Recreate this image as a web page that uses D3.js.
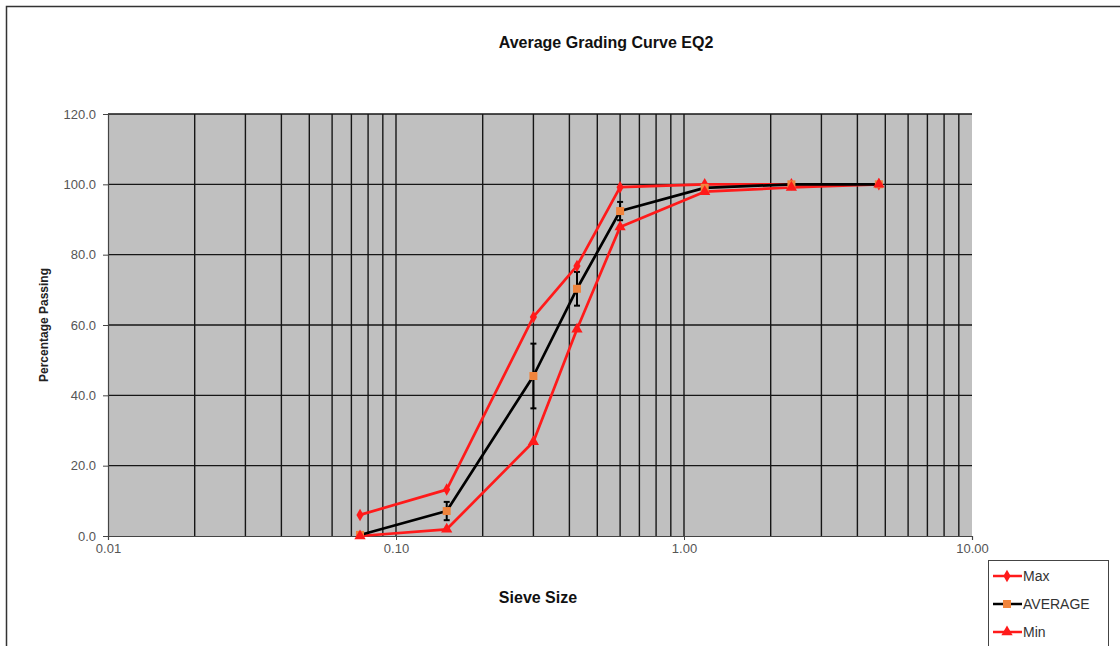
<!DOCTYPE html>
<html><head><meta charset="utf-8">
<script src="https://cdn.jsdelivr.net/npm/d3@7"></script>
<style>
body{margin:0;background:#fff;}
svg{display:block;font-family:"Liberation Sans",Arial,sans-serif;}
</style></head>
<body><svg id="c" width="1120" height="646"></svg>
<script>
const sieve = [0.075, 0.15, 0.3, 0.425, 0.6, 1.18, 2.36, 4.75];
const maxVals = [6.0, 13.2, 62.3, 76.8, 99.2, 100.0, 100.0, 100.0];
const avgVals = [0.3, 7.1, 45.5, 70.3, 92.4, 99.0, 100.0, 100.0];
const minVals = [0.0, 1.9, 26.8, 58.8, 87.9, 97.9, 99.1, 100.0];
const avgErr  = [0.0, 2.6, 9.2, 4.8, 2.6, 0.5, 0.0, 0.0];
const xTickVals = [0.01, 0.1, 1, 10];
const xTickLabels = ["0.01", "0.10", "1.00", "10.00"];
const yTickVals = [0, 20, 40, 60, 80, 100, 120];
const yTickLabels = ["0.0", "20.0", "40.0", "60.0", "80.0", "100.0", "120.0"];
const seriesNames = ["Max", "AVERAGE", "Min"];

const svg = d3.select("#c");
const L = 108, R = 972, T = 114, B = 536;
const x = d3.scaleLog().domain([0.01, 10]).range([L, R]);
const y = d3.scaleLinear().domain([0, 120]).range([B, T]);

// outer frame
svg.append("rect").attr("x", 6.5).attr("y", 6.5).attr("width", 1140).attr("height", 700)
  .attr("fill", "#fff").attr("stroke", "#333").attr("stroke-width", 1.5);

// plot background
svg.append("rect").attr("x", L).attr("y", T).attr("width", R - L).attr("height", B - T)
  .attr("fill", "#c0c0c0");

// vertical gridlines (major + minor)
const vgrid = [];
[0.01, 0.1, 1].forEach(d => { for (let k = 1; k <= 9; k++) vgrid.push(d * k); });
svg.append("g").selectAll("line").data(vgrid.filter(v => v > 0.01)).join("line")
  .attr("x1", d => x(d)).attr("x2", d => x(d)).attr("y1", T).attr("y2", B)
  .attr("stroke", "#161616").attr("stroke-width", 1.4);
// horizontal gridlines
svg.append("g").selectAll("line").data(yTickVals.filter(v => v > 0)).join("line")
  .attr("x1", L).attr("x2", R).attr("y1", d => y(d)).attr("y2", d => y(d))
  .attr("stroke", "#161616").attr("stroke-width", 1.4);

// axes
const yAxis = d3.axisLeft(y).tickValues(yTickVals).tickFormat((d, i) => yTickLabels[i]).tickSize(5).tickPadding(7);
const gy = svg.append("g").attr("transform", `translate(${L},0)`).call(yAxis);
const xAxis = d3.axisBottom(x).tickValues(xTickVals).tickFormat((d, i) => xTickLabels[i]).tickSize(4).tickPadding(4);
const gx = svg.append("g").attr("transform", `translate(0,${B})`).call(xAxis);
[gx, gy].forEach(g => {
  g.select(".domain").attr("stroke", "#444").attr("stroke-width", 1.2);
  g.selectAll(".tick line").attr("stroke", "#444");
  g.selectAll("text").attr("fill", "#555").attr("font-size", 13)
   .attr("font-family", "'Liberation Sans',Arial,sans-serif");
});

// titles
svg.append("text").attr("x", 606).attr("y", 48).attr("text-anchor", "middle")
  .attr("font-size", 16).attr("font-weight", "bold").attr("fill", "#111").text("Average Grading Curve EQ2");
svg.append("text").attr("x", 538).attr("y", 603).attr("text-anchor", "middle")
  .attr("font-size", 16).attr("font-weight", "bold").attr("fill", "#111").text("Sieve Size");
svg.append("text").attr("transform", `translate(48,${(T + B) / 2}) rotate(-90)`).attr("text-anchor", "middle")
  .attr("font-size", 12).attr("font-weight", "bold").attr("fill", "#222").text("Percentage Passing");

const line = d3.line().x(d => x(d[0])).y(d => y(d[1]));
const red = "#ff1a1a", orange = "#f0843c";

function drawSeries(vals, color) {
  svg.append("path").datum(sieve.map((s, i) => [s, vals[i]]))
    .attr("d", line).attr("fill", "none").attr("stroke", color).attr("stroke-width", 2.7)
    .attr("stroke-linejoin", "round");
}
drawSeries(maxVals, red);
drawSeries(minVals, red);
drawSeries(avgVals, "#000");

// error bars
const eg = svg.append("g");
sieve.forEach((s, i) => {
  if (avgErr[i] <= 0) return;
  const cx = x(s), y1 = y(avgVals[i] + avgErr[i]), y2 = y(avgVals[i] - avgErr[i]);
  eg.append("line").attr("x1", cx).attr("x2", cx).attr("y1", y1).attr("y2", y2).attr("stroke", "#000").attr("stroke-width", 2);
  [y1, y2].forEach(yy => eg.append("line").attr("x1", cx - 3).attr("x2", cx + 3).attr("y1", yy).attr("y2", yy)
    .attr("stroke", "#000").attr("stroke-width", 2));
});

const diamond = d3.symbol().type(d3.symbolDiamond).size(45);
const square = d3.symbol().type(d3.symbolSquare).size(64);
const tri = d3.symbol().type(d3.symbolTriangle).size(55);
function markers(vals, sym, color) {
  svg.append("g").selectAll("path").data(sieve.map((s, i) => [s, vals[i]])).join("path")
    .attr("d", sym).attr("transform", d => `translate(${x(d[0])},${y(d[1])})`).attr("fill", color);
}
markers(maxVals, diamond, red);
markers(avgVals, square, orange);
markers(minVals, tri, red);

// legend
const lg = svg.append("g");
lg.append("rect").attr("x", 988.5).attr("y", 560.5).attr("width", 120).attr("height", 100)
  .attr("fill", "#fff").attr("stroke", "#444").attr("stroke-width", 1);
const legendSyms = [diamond, square, tri];
const legendLine = [red, "#000", red];
const legendMark = [red, orange, red];
seriesNames.forEach((n, i) => {
  const yy = 576 + i * 28;
  lg.append("line").attr("x1", 993).attr("x2", 1022).attr("y1", yy).attr("y2", yy)
    .attr("stroke", legendLine[i]).attr("stroke-width", 2.5);
  lg.append("path").attr("d", legendSyms[i]).attr("transform", `translate(1007,${yy})`).attr("fill", legendMark[i]);
  lg.append("text").attr("x", 1023).attr("y", yy + 5).attr("font-size", 14).attr("fill", "#333").text(n);
});
</script></body></html>
